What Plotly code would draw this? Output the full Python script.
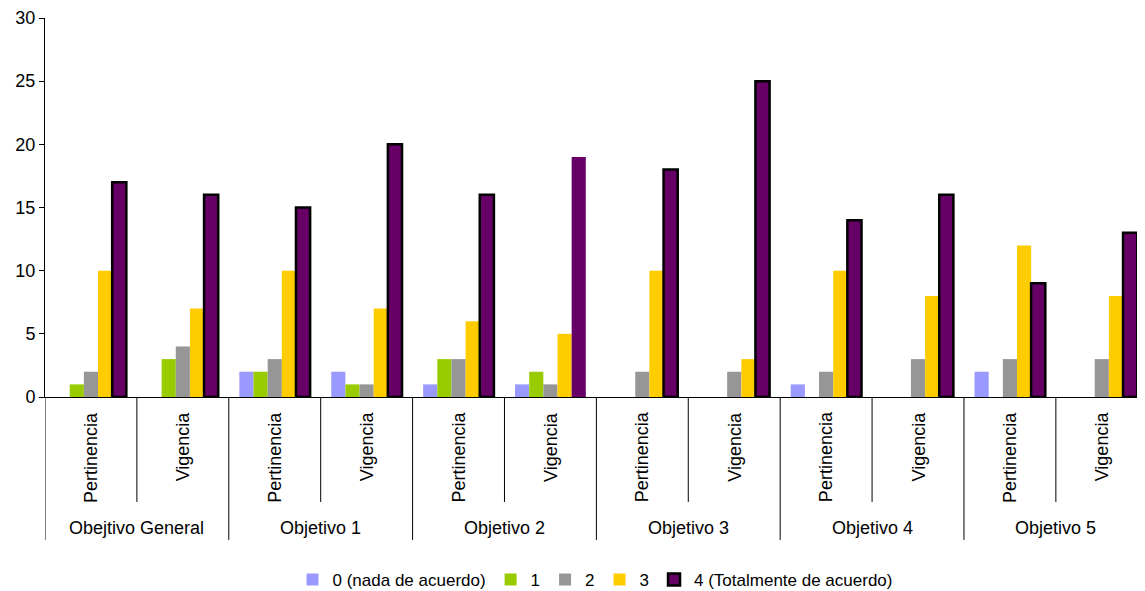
import plotly.graph_objects as go

objetivos = ["Obejtivo General", "Objetivo 1", "Objetivo 2", "Objetivo 3", "Objetivo 4", "Objetivo 5"]
aspectos = ["Pertinencia", "Vigencia"]

series_names = ["0 (nada de acuerdo)", "1", "2", "3", "4 (Totalmente de acuerdo)"]
colors = ["#9999FF", "#99CC00", "#969696", "#FFCC00", "#660066"]

# values per category (order: OG-P, OG-V, O1-P, O1-V, ..., O5-P, O5-V)
v0 = [0, 0, 2, 2, 1, 1, 0, 0, 1, 0, 2, 0]
v1 = [1, 3, 2, 1, 3, 2, 0, 0, 0, 0, 0, 0]
v2 = [2, 4, 3, 1, 3, 1, 2, 2, 2, 3, 3, 3]
v3 = [10, 7, 10, 7, 6, 5, 10, 3, 10, 8, 12, 8]
v4 = [17, 16, 15, 20, 16, 19, 18, 25, 14, 16, 9, 13]
# black outline present on "4" bars (absent on Objetivo 2 / Vigencia)
v4_outline = [1, 1, 1, 1, 1, 0, 1, 1, 1, 1, 1, 1]

cats = [(o, a) for o in objetivos for a in aspectos]
xpos = list(range(len(cats)))
sub_labels = [a for (_, a) in cats]

font = "Liberation Sans, Arial, sans-serif"

fig = go.Figure()
for name, col, vals in zip(series_names, colors, [v0, v1, v2, v3, v4]):
    if vals is v4:
        line = dict(color="black", width=[2.5 * f for f in v4_outline])
    else:
        line = dict(width=0)
    fig.add_trace(go.Bar(x=xpos, y=vals, name=name, marker=dict(color=col, line=line)))

shapes = []
annotations = []
n = len(cats)
for i in range(n + 1):
    xb = i - 0.5
    is_group = (i % len(aspectos) == 0)
    shapes.append(dict(type="line", xref="x", yref="paper", x0=xb, x1=xb,
                       y0=0, y1=-0.377 if is_group else -0.277,
                       line=dict(color="black", width=1)))
for k, o in enumerate(objetivos):
    xc = k * len(aspectos) + (len(aspectos) - 1) / 2
    annotations.append(dict(x=xc, y=-0.3456, xref="x", yref="paper", text=o,
                            showarrow=False, xanchor="center", yanchor="middle",
                            font=dict(family=font, size=18, color="black")))
for i, lab in enumerate(sub_labels):
    annotations.append(dict(x=i, y=-0.033, xref="x", yref="paper", text=lab,
                            textangle=-90, showarrow=False, xanchor="center", yanchor="top",
                            font=dict(family=font, size=18, color="black")))

# the page body adds an 8px offset; size the figure so it fits the window
fig.update_layout(
    width=1137, height=583,
    margin=dict(l=37, r=0, t=10, b=194, autoexpand=False),
    paper_bgcolor="white", plot_bgcolor="white",
    barmode="group", bargap=0.23, bargroupgap=0,
    font=dict(family=font, size=18, color="black"),
    showlegend=True,
    legend=dict(orientation="h", x=0.5, xanchor="center", y=-0.483, yanchor="middle",
                font=dict(family=font, size=17, color="black"), itemwidth=30,
                traceorder="normal"),
    shapes=shapes, annotations=annotations,
)
fig.update_xaxes(range=[-0.5, n - 0.53], showline=True, linecolor="black", linewidth=1,
                 showgrid=False, zeroline=False, showticklabels=False, ticks="",
                 automargin=False)
fig.update_yaxes(range=[0, 30], dtick=5, showline=True, linecolor="black", linewidth=1,
                 showgrid=False, zeroline=False, ticks="outside", ticklen=5, tickcolor="black",
                 tickfont=dict(family=font, size=18, color="black"), automargin=False)

fig.write_html("out.html")
